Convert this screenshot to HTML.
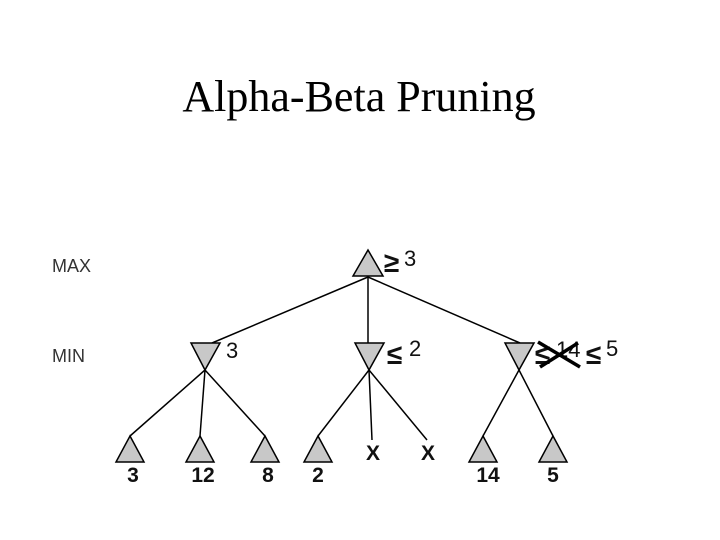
<!DOCTYPE html>
<html><head><style>body{margin:0;background:#fff}</style></head><body>
<svg width="720" height="540" xmlns="http://www.w3.org/2000/svg" style="display:block">
<rect width="720" height="540" fill="#fff"/>
<text x="359" y="111" font-family="Liberation Serif, serif" font-size="44" text-anchor="middle">Alpha-Beta Pruning</text>
<g font-family="Liberation Sans, sans-serif" font-size="18" fill="#333">
<text x="52" y="272">MAX</text><text x="52" y="362">MIN</text></g>
<g stroke="#000" stroke-width="1.5" fill="none">
<line x1="368" y1="277" x2="212" y2="343"/><line x1="368" y1="277" x2="368" y2="343"/><line x1="368" y1="277" x2="520" y2="343"/>
<line x1="205" y1="370" x2="130" y2="436"/><line x1="205" y1="370" x2="200" y2="436"/><line x1="205" y1="370" x2="265" y2="436"/>
<line x1="369" y1="370" x2="318" y2="436"/><line x1="369" y1="370" x2="372" y2="440"/><line x1="369" y1="370" x2="427" y2="440"/>
<line x1="519" y1="370" x2="483" y2="436"/><line x1="519" y1="370" x2="553" y2="436"/>
</g>
<g fill="#c8c8c8" stroke="#000" stroke-width="1.5">
<polygon points="368,250 353,276 383,276"/>
<polygon points="191,343 220,343 205,370"/><polygon points="355,343 384,343 369,370"/><polygon points="505,343 534,343 519,370"/>
<polygon points="130,436 116,462 144,462"/><polygon points="200,436 186,462 214,462"/><polygon points="265,436 251,462 279,462"/>
<polygon points="318,436 304,462 332,462"/><polygon points="483,436 469,462 497,462"/><polygon points="553,436 539,462 567,462"/>
</g>
<g font-family="Liberation Sans, sans-serif" font-size="21" font-weight="bold" fill="#111" text-anchor="middle">
<text x="133" y="482">3</text><text x="203" y="482">12</text><text x="268" y="482">8</text><text x="318" y="482">2</text>
<text x="488" y="482">14</text><text x="553" y="482">5</text>
<text x="373" y="460">X</text><text x="428" y="460">X</text>
</g>
<g font-family="Liberation Sans, sans-serif" font-size="22" fill="#111">
<text x="384" y="272" font-weight="bold" font-size="28">≥</text><text x="404" y="266">3</text>
<text x="226" y="358">3</text>
<text x="387" y="364" font-weight="bold" font-size="28">≤</text><text x="409" y="356">2</text>
<text x="535" y="364" font-weight="bold" font-size="28">≤</text><text x="556" y="357">14</text>
<text x="586" y="364" font-weight="bold" font-size="28">≤</text><text x="606" y="356">5</text>
</g>
<g stroke="#000" stroke-width="3.5"><line x1="538" y1="342" x2="580" y2="367"/><line x1="540" y1="367" x2="578" y2="343"/></g>
</svg>
</body></html>
